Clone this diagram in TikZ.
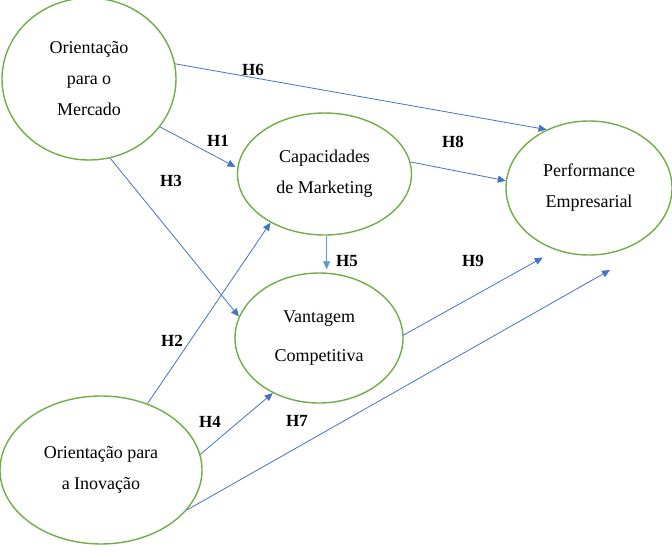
\documentclass[tikz,border=0pt]{standalone}
\usepackage{fontspec}
\setmainfont{Liberation Serif}
\usetikzlibrary{arrows.meta,shapes.geometric}
\definecolor{ellgreen}{RGB}{112,173,71}
\definecolor{arrblue}{RGB}{68,114,196}
\definecolor{lightarrblue}{RGB}{91,155,213}
\begin{document}
\begin{tikzpicture}[x=1pt,y=-1pt,
  construct/.style={ellipse, draw=ellgreen, line width=1.4pt, inner sep=0pt, align=center, font=\fontsize{18}{31}\selectfont},
  link/.style={draw=arrblue, line width=0.8pt, -{Triangle[length=8pt,width=7pt]}},
  hyp/.style={font=\fontsize{17}{20}\selectfont\bfseries}]
\useasboundingbox (0,0) rectangle (672,557);
\node[construct, minimum width=174pt, minimum height=162pt] (M) at (89,79) {Orientação\\para o\\Mercado};
\node[construct, minimum width=174pt, minimum height=122pt] (C) at (324.5,174) {Capacidades\\de Marketing};
\node[construct, minimum width=166pt, minimum height=134pt] (P) at (589,188) {Performance\\Empresarial};
\node[construct, minimum width=168pt, minimum height=130pt, font=\fontsize{18}{39}\selectfont] (V) at (319,338) {Vantagem\\Competitiva};
\node[construct, minimum width=202pt, minimum height=148pt] (I) at (101,470) {Orientação para\\a Inovação};
\coordinate (h7end) at (610,270);
% connectors
\draw[link] (M.10) -- (P.126);
\draw[link, shorten >=2pt] (M.-34) -- (C.176);
\draw[link] (M.-75) -- (V.165);
\draw[link] (C.8) -- (P.175);
\draw[link, draw=lightarrblue, shorten >=3pt] (C.-88) -- (C.-88 |- V.north);
\draw[link] (I.55) -- (C.-138);
\draw[link] (I.9) -- (V.-130);
\draw[link, shorten >=15pt] (V.2) -- (P.-118);
\draw[link] (I.-25) -- (h7end);
% labels
\node[hyp] (h6) at (253,70) {H6};
\node[hyp] (h1) at (218,141) {H1};
\node[hyp] (h8) at (453,142) {H8};
\node[hyp] (h3) at (171,181) {H3};
\node[hyp] (h5) at (347,261) {H5};
\node[hyp] (h9) at (473,261) {H9};
\node[hyp] (h2) at (172,341) {H2};
\node[hyp] (h4) at (210,422) {H4};
\node[hyp] (h7) at (297,421) {H7};
\end{tikzpicture}
\end{document}
